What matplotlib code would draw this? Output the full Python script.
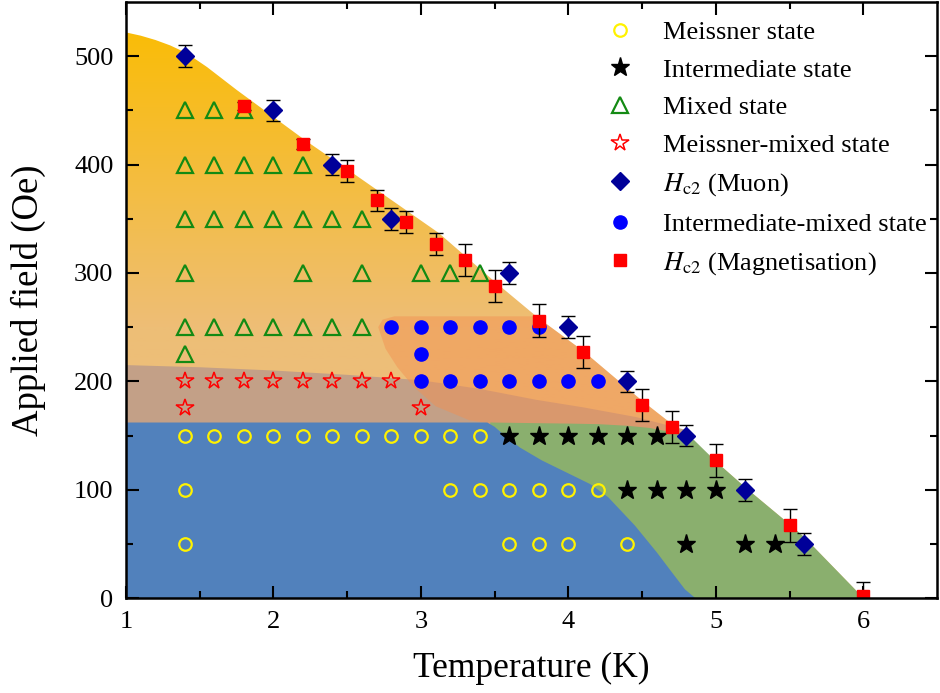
import numpy as np
import matplotlib
matplotlib.use("Agg")
from matplotlib import pyplot as plt
from matplotlib.patches import Polygon
from matplotlib.colors import LinearSegmentedColormap

plt.rcParams['font.family'] = ['Liberation Serif', 'DejaVu Serif']
plt.rcParams['mathtext.fontset'] = 'stix'

# ---- measured states (temperature in K, applied field in Oe) ----
meissner_T = [1.4, 1.6, 1.8, 2.0, 2.2, 2.4, 2.6, 2.8, 3.0, 3.2, 3.4,
              1.4, 3.2, 3.4, 3.6, 3.8, 4.0, 4.2,
              1.4, 3.6, 3.8, 4.0, 4.4]
meissner_H = [150, 150, 150, 150, 150, 150, 150, 150, 150, 150, 150,
              100, 100, 100, 100, 100, 100, 100,
              50, 50, 50, 50, 50]

inter_T = [3.6, 3.8, 4.0, 4.2, 4.4, 4.6, 4.4, 4.6, 4.8, 5.0, 4.8, 5.2, 5.4]
inter_H = [150, 150, 150, 150, 150, 150, 100, 100, 100, 100, 50, 50, 50]

mixed_T = [1.4, 1.6, 1.8,
           1.4, 1.6, 1.8, 2.0, 2.2,
           1.4, 1.6, 1.8, 2.0, 2.2, 2.4, 2.6,
           1.4, 2.2, 2.6, 3.0, 3.2, 3.4,
           1.4, 1.6, 1.8, 2.0, 2.2, 2.4, 2.6,
           1.4]
mixed_H = [450, 450, 450,
           400, 400, 400, 400, 400,
           350, 350, 350, 350, 350, 350, 350,
           300, 300, 300, 300, 300, 300,
           250, 250, 250, 250, 250, 250, 250,
           225]

mm_T = [1.4, 1.6, 1.8, 2.0, 2.2, 2.4, 2.6, 2.8, 1.4, 3.0]
mm_H = [200, 200, 200, 200, 200, 200, 200, 200, 175, 175]

im_T = [2.8, 3.0, 3.2, 3.4, 3.6, 3.8, 3.0, 3.0, 3.2, 3.4, 3.6, 3.8, 4.0, 4.2]
im_H = [250, 250, 250, 250, 250, 250, 225, 200, 200, 200, 200, 200, 200, 200]

muon_T = [1.4, 2.0, 2.4, 2.8, 3.6, 4.0, 4.4, 4.8, 5.2, 5.6]
muon_H = [500, 450, 400, 350, 300, 250, 200, 150, 100, 50]
muon_err = [10, 10, 10, 10, 10, 10, 10, 10, 10, 10]

mag_T = [1.8, 2.2, 2.5, 2.7, 2.9, 3.1, 3.3, 3.5, 3.8, 4.1, 4.5, 4.7, 5.0, 5.5, 6.0]
mag_H = [454, 419, 394, 367, 347, 327, 312, 288, 256, 227, 178, 158, 127, 67, 2]
mag_err = [4, 5, 10, 10, 10, 10, 15, 15, 15, 15, 15, 15, 15, 15, 13]

# ---- shaded phase regions (hand traced outlines) ----
hc2_edge = [(1.0, 522), (1.1, 519), (1.2, 515), (1.3, 510), (1.41, 503),
            (1.55, 490), (1.75, 469), (2.0, 444), (2.22, 422),
            (2.54, 392), (3.12, 337), (3.5, 292), (3.8, 258), (4.1, 228),
            (4.5, 182), (4.8, 150), (5.0, 126), (5.2, 102), (5.5, 68),
            (5.6, 56), (6.0, 0)]
band_edge = [(1.0, 215), (1.5, 213), (2.0, 210), (2.5, 206), (3.0, 201),
             (3.4, 193), (3.78, 183), (4.1, 176), (4.46, 167), (4.8, 155)]
im_region = [(2.71, 250), (2.74, 257), (2.82, 260), (3.78, 260), (3.8, 258),
             (4.1, 228), (4.5, 182), (4.8, 150), (4.9, 138), (3.48, 150),
             (3.48, 161), (3.33, 164), (3.1, 177), (2.95, 195), (2.84, 213),
             (2.76, 230)]
green_region = [(3.47, 162), (4.0, 161), (4.2, 160.5), (4.4, 159), (4.55, 157),
                (4.7, 153), (4.85, 146), (5.0, 126), (5.2, 102), (5.5, 68),
                (5.6, 56), (6.0, 0), (3.47, 0)]
blue_region = [(1.0, 0), (1.0, 162), (3.45, 162), (3.5, 158), (3.55, 152),
               (3.67, 139), (3.82, 127), (4.0, 115), (4.15, 105), (4.27, 93),
               (4.36, 80), (4.45, 67), (4.6, 42), (4.7, 24), (4.79, 8), (4.86, 0)]

fig = plt.figure(figsize=(9.4, 6.93), dpi=100)
ax = fig.add_axes([0.134, 0.137, 0.863, 0.860])

# orange gradient for the mixed state, clipped to the Hc2 outline
outline = Polygon([(1.0, 0)] + hc2_edge, closed=True, facecolor='none', edgecolor='none')
ax.add_patch(outline)
cmap = LinearSegmentedColormap.from_list(
    'mixed', [(0.0, (250/255, 188/255, 8/255)),
              (0.52, (238/255, 190/255, 118/255)),
              (1.0, (236/255, 190/255, 135/255))])
grad = np.linspace(0, 1, 256).reshape(-1, 1)
img = ax.imshow(grad, cmap=cmap, extent=[1.0, 6.0, 0, 522], aspect='auto',
                origin='upper', zorder=0)
img.set_clip_path(outline)

band = [(1.0, 150)] + band_edge + [(4.8, 150)]
ax.add_patch(Polygon(band, closed=True, facecolor='#C3A087', edgecolor='none', zorder=0.5))
ax.add_patch(Polygon(im_region, closed=True, facecolor=(243/255, 144/255, 81/255),
                     alpha=0.48, edgecolor='none', zorder=0.6))
ax.add_patch(Polygon(green_region, closed=True, facecolor='#8AAF6E', edgecolor='none', zorder=0.7))
ax.add_patch(Polygon(blue_region, closed=True, facecolor='#5181BC', edgecolor='none', zorder=0.8))

# ---- data points ----
h1, = ax.plot(meissner_T, meissner_H, 'o', ls='none', ms=9, mfc='none', mec='#FFF200',
              mew=1.6, zorder=3, label='Meissner state')
h2, = ax.plot(inter_T, inter_H, '*', ls='none', ms=14, color='black', zorder=3,
              label='Intermediate state')
h3, = ax.plot(mixed_T, mixed_H, '^', ls='none', ms=11, mfc='none', mec='#138A13',
              mew=1.6, zorder=3, label='Mixed state')
h4, = ax.plot(mm_T, mm_H, '*', ls='none', ms=13, mfc='none', mec='red',
              mew=1.1, zorder=3, label='Meissner-mixed state')
h6, = ax.plot(im_T, im_H, 'o', ls='none', ms=9.5, color='#0000FF', zorder=3,
              label='Intermediate-mixed state')

ax.errorbar(muon_T, muon_H, yerr=muon_err, fmt='none', ecolor='black', elinewidth=1,
            capsize=5, capthick=1, zorder=4)
ax.errorbar(mag_T, mag_H, yerr=mag_err, fmt='none', ecolor='black', elinewidth=1,
            capsize=5, capthick=1, zorder=4)
h5, = ax.plot(muon_T, muon_H, 'D', ls='none', ms=9, color='#000099', zorder=5,
              label=r'$\mathit{H}_{\mathrm{c2}}$ (Muon)')
h7, = ax.plot(mag_T, mag_H, 's', ls='none', ms=8.5, color='#FF0000', zorder=5,
              label=r'$\mathit{H}_{\mathrm{c2}}$ (Magnetisation)')

ax.legend(handles=[h1, h2, h3, h4, h5, h6, h7], loc='upper left',
          bbox_to_anchor=(0.577, 0.987), frameon=False, fontsize=19,
          handlelength=1.2, handletextpad=1.0, labelspacing=0.54, borderaxespad=0)

ax.set_xlim(1, 6.5)
ax.set_ylim(0, 550)
ax.set_xticks([1, 2, 3, 4, 5, 6])
ax.set_xticks([1.5, 2.5, 3.5, 4.5, 5.5], minor=True)
ax.set_yticks([0, 100, 200, 300, 400, 500])
ax.set_yticks([50, 150, 250, 350, 450], minor=True)
ax.tick_params(which='both', direction='in', top=True, right=True, width=1.5,
               labelsize=19, pad=9)
ax.tick_params(which='major', length=9)
ax.tick_params(which='minor', length=5)
for s in ax.spines.values():
    s.set_linewidth(1.8)
    s.set_zorder(6)

ax.set_xlabel('Temperature (K)', fontsize=25.5, labelpad=14)
ax.set_ylabel('Applied field (Oe)', fontsize=26.5, labelpad=20)

fig.savefig('out.png', dpi=100)
